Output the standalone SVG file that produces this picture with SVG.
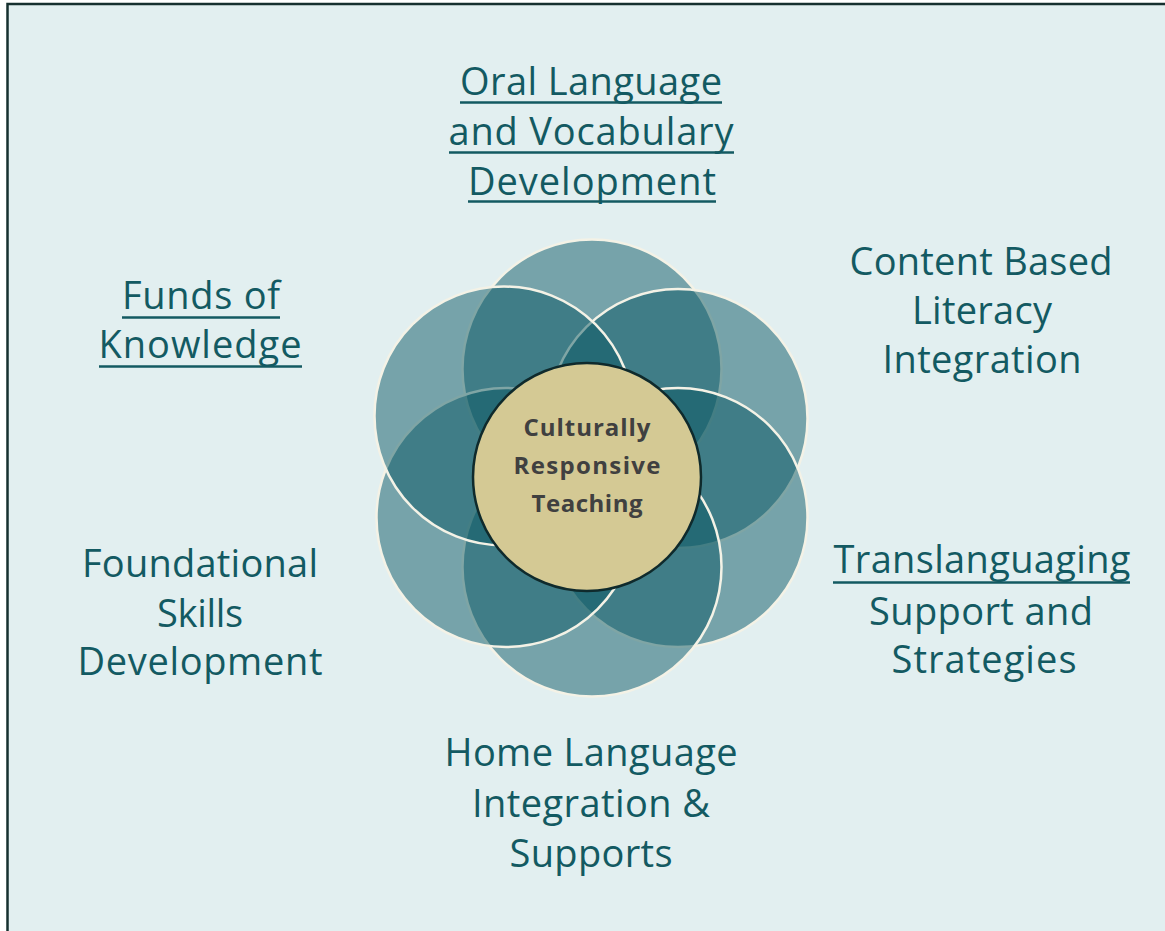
<svg xmlns="http://www.w3.org/2000/svg" width="1165" height="931" viewBox="0 0 1165 931">
<style>
.petal{fill:rgb(10,87,100);fill-opacity:0.5;stroke:#f4f2e6;stroke-width:2.5}
.lbl{font-family:"Open Sans","Liberation Sans",sans-serif;font-size:38px;fill:#135a62;text-anchor:middle}
.ul{stroke:#135a62;stroke-width:2.6}
.hub{font-family:"Open Sans","Liberation Sans",sans-serif;font-size:24px;font-weight:bold;fill:#404040;text-anchor:middle}
</style>
<rect x="0" y="0" width="1165" height="931" fill="#ffffff"/>
<rect x="7.5" y="4" width="1170" height="940" fill="#e2eff0" stroke="#16302f" stroke-width="2.5"/>
<g id="petals">
<g id="petal-top"><circle class="petal" cx="592" cy="369" r="129.5"/></g>
<g id="petal-upper-right"><circle class="petal" cx="678" cy="418.5" r="129.5"/></g>
<g id="petal-lower-right"><circle class="petal" cx="678" cy="517.5" r="129.5"/></g>
<g id="petal-bottom"><circle class="petal" cx="592" cy="567" r="129.5"/></g>
<g id="petal-lower-left"><circle class="petal" cx="506" cy="517.5" r="129.5"/></g>
<g id="petal-upper-left"><circle class="petal" cx="504" cy="416" r="129.5"/></g>
</g>
<g id="hub">
<circle cx="587" cy="477" r="114" fill="#d4c994" stroke="#0f2a2c" stroke-width="2.5"/>
<text class="hub" x="587" y="436" textLength="127">Culturally</text>
<text class="hub" x="587" y="474" textLength="147">Responsive</text>
<text class="hub" x="587" y="512" textLength="111">Teaching</text>
</g>
<g id="node-oral">
<text class="lbl" x="591" y="95" textLength="262">Oral Language</text>
<text class="lbl" x="591" y="145" textLength="285">and Vocabulary</text>
<text class="lbl" x="592" y="195" textLength="248">Development</text>
<line class="ul" x1="460" y1="102.5" x2="722" y2="102.5"/>
<line class="ul" x1="449" y1="152.5" x2="734" y2="152.5"/>
<line class="ul" x1="468" y1="201.5" x2="716" y2="201.5"/>
</g>
<g id="node-content">
<text class="lbl" x="981" y="275" textLength="263">Content Based</text>
<text class="lbl" x="982" y="324" textLength="140">Literacy</text>
<text class="lbl" x="982" y="373" textLength="199">Integration</text>
</g>
<g id="node-translanguaging">
<text class="lbl" x="982" y="573" textLength="297">Translanguaging</text>
<line class="ul" x1="833" y1="582.5" x2="1130" y2="582.5"/>
<text class="lbl" x="981" y="625" textLength="224">Support and</text>
<text class="lbl" x="984" y="673" textLength="185">Strategies</text>
</g>
<g id="node-home">
<text class="lbl" x="591" y="766" textLength="293">Home Language</text>
<text class="lbl" x="591" y="817" textLength="238">Integration &amp;</text>
<text class="lbl" x="591" y="867" textLength="163">Supports</text>
</g>
<g id="node-foundational">
<text class="lbl" x="200" y="577" textLength="236">Foundational</text>
<text class="lbl" x="200" y="627" textLength="86">Skills</text>
<text class="lbl" x="200" y="675" textLength="245">Development</text>
</g>
<g id="node-funds">
<text class="lbl" x="201" y="309" textLength="158">Funds of</text>
<text class="lbl" x="200" y="358" textLength="203">Knowledge</text>
<line class="ul" x1="122" y1="317.5" x2="280" y2="317.5"/>
<line class="ul" x1="99" y1="366.5" x2="302" y2="366.5"/>
</g>
<g id="connectors"></g>
</svg>
